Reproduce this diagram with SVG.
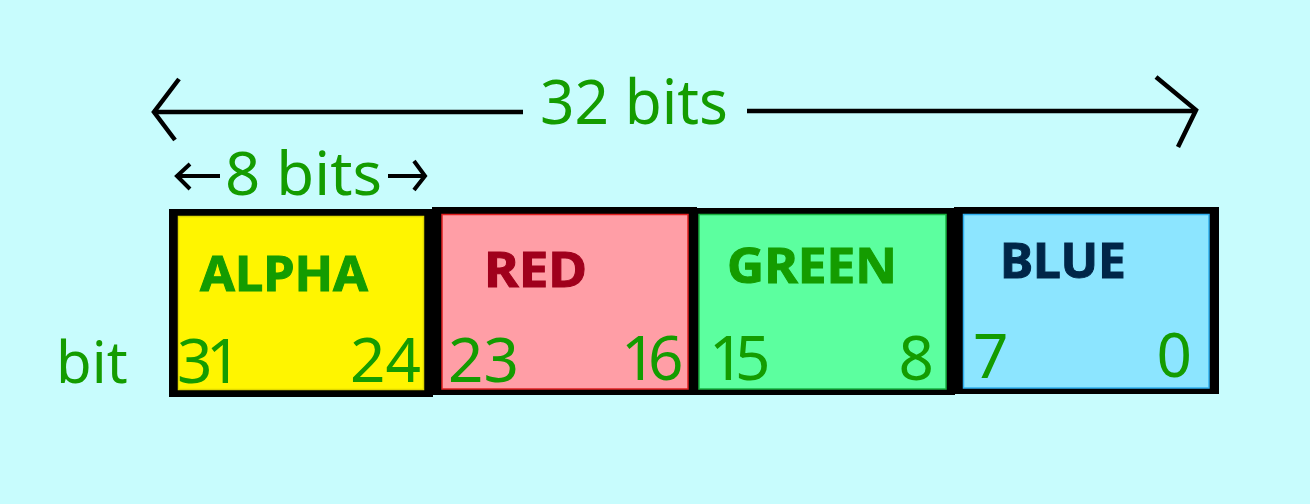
<svg xmlns="http://www.w3.org/2000/svg" width="1310" height="504" viewBox="0 0 1310 504">
<style>
.t{font-family:"Noto Sans","Open Sans","DejaVu Sans",sans-serif;fill:#149c00}
.lbl{font-family:"Noto Sans","Open Sans","DejaVu Sans",sans-serif;font-weight:bold;font-size:49px;stroke-width:1}
.num{font-size:62px}
.ln{stroke:#000;stroke-width:4.5;fill:none;stroke-linecap:butt;stroke-linejoin:miter}
.frame{fill:#000}
.inner{stroke-width:1.5}
</style>
<rect width="1310" height="504" fill="#c8fcfd"/>
<g id="connectors">
<path class="ln" d="M153,112 H523 M747,111 H1196"/>
<path class="ln" d="M179,79 L154,112 L175,140"/>
<path class="ln" d="M1156,77 L1196,110 L1178,147"/>
<path class="ln" d="M177,176 H220 M190,164 L177,176 L190,189" style="stroke-width:4"/>
<path class="ln" d="M388,176 H425 M414,161 L425,176 L414,190" style="stroke-width:4"/>
</g>
<g id="title32">
<text class="t" x="540" y="124" font-size="62" textLength="188" lengthAdjust="spacingAndGlyphs">32 bits</text>
</g>
<g id="title8">
<text class="t" x="225" y="195" font-size="60" textLength="157" lengthAdjust="spacingAndGlyphs">8 bits</text>
</g>
<g id="bitlabel">
<text class="t" x="56" y="383" font-size="58">bit</text>
</g>
<g id="alpha">
<rect class="frame" x="169" y="209" width="264" height="188"/>
<rect class="inner" x="178.5" y="216.5" width="245" height="173" fill="#fff500" stroke="#e0d800"/>
<text class="lbl" x="200" y="291" fill="#149c00" stroke="#149c00" textLength="168" lengthAdjust="spacingAndGlyphs">ALPHA</text>
<text class="t num" x="177 206" y="383">31</text>
<text class="t num" x="421" y="382" text-anchor="end">24</text>
</g>
<g id="red">
<rect class="frame" x="432" y="207" width="265" height="188"/>
<rect class="inner" x="442" y="214.5" width="246" height="174.5" fill="#ff9ea6" stroke="#e02020"/>
<text class="lbl" x="484" y="287" fill="#a0001c" stroke="#a0001c" textLength="103" lengthAdjust="spacingAndGlyphs">RED</text>
<text class="t num" x="448" y="382">23</text>
<text class="t num" x="621 648" y="380">16</text>
</g>
<g id="green">
<rect class="frame" x="689" y="208" width="266" height="187"/>
<rect class="inner" x="699" y="214.5" width="247" height="174.5" fill="#5cff9f" stroke="#18b040"/>
<text class="lbl" x="727" y="283" fill="#149c00" stroke="#149c00" textLength="170" lengthAdjust="spacingAndGlyphs">GREEN</text>
<text class="t num" x="709 735" y="380">15</text>
<text class="t num" x="934" y="380" text-anchor="end">8</text>
</g>
<g id="blue">
<rect class="frame" x="954" y="207" width="265" height="187"/>
<rect class="inner" x="963.5" y="214.5" width="245.5" height="173.5" fill="#8ce5ff" stroke="#30b0f0"/>
<text class="lbl" x="1000" y="278" fill="#002648" stroke="#002648" textLength="126" lengthAdjust="spacingAndGlyphs">BLUE</text>
<text class="t num" x="973" y="378">7</text>
<text class="t num" x="1192" y="377" text-anchor="end">0</text>
</g>
</svg>
